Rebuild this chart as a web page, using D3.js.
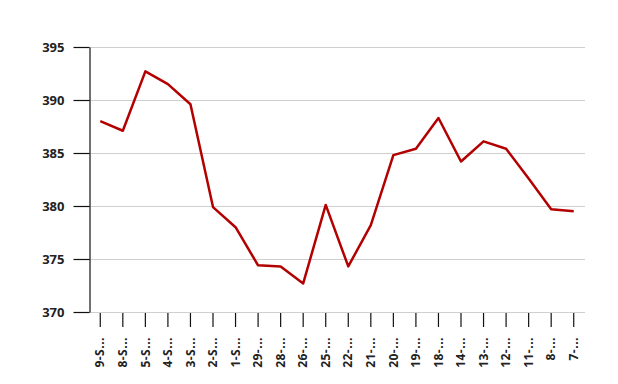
<!DOCTYPE html>
<html><head><meta charset="utf-8">
<script src="https://cdn.jsdelivr.net/npm/d3@7"></script>
<style>body{margin:0;background:#fff}svg{display:block}</style>
</head><body>
<svg id="c" width="618" height="384"></svg>
<script>
const categories = ["9-S...","8-S...","5-S...","4-S...","3-S...","2-S...","1-S...","29-...","28-...","26-...","25-...","22-...","21-...","20-...","19-...","18-...","14-...","13-...","12-...","11-...","8-...","7-..."];
const values = [388.0,387.1,392.7,391.5,389.6,379.9,378.0,374.4,374.3,372.7,380.1,374.3,378.2,384.8,385.4,388.3,384.2,386.1,385.4,382.6,379.7,379.5];
const yTicks = [370,375,380,385,390,395];

const svg = d3.select("#c");
const L = 89, R = 585, T = 47, B = 312;
const x = d3.scaleBand().domain(categories).range([L, R]);
const y = d3.scaleLinear().domain([370, 395]).range([B, T]);
const font = "'Open Sans', sans-serif";

// gridlines
svg.append("g").selectAll("line").data(yTicks).join("line")
  .attr("x1", L).attr("x2", R)
  .attr("y1", d => y(d) + 0.5).attr("y2", d => y(d) + 0.5)
  .attr("stroke", "#cfcfcf").attr("stroke-width", 1);

// y axis
const ya = svg.append("g").attr("transform", `translate(${L + 0.5},0)`)
  .call(d3.axisLeft(y).tickValues(yTicks).tickSize(16).tickSizeOuter(0).tickPadding(9));
ya.select(".domain").attr("stroke", "#111").attr("stroke-width", 1.2);
ya.selectAll(".tick line").attr("stroke", "#111").attr("stroke-width", 1.2);
ya.selectAll("text").attr("font-family", font).attr("font-weight", "bold")
  .attr("font-size", "13px").attr("fill", "#222");

// x axis ticks
const xa = svg.append("g").attr("transform", `translate(0,${B + 1})`)
  .call(d3.axisBottom(x).tickSize(14).tickSizeOuter(0));
xa.select(".domain").remove();
xa.selectAll(".tick line").attr("stroke", "#111").attr("stroke-width", 1.2);
xa.selectAll("text")
  .attr("font-family", font).attr("font-weight", "bold")
  .attr("font-size", "12px").attr("fill", "#222")
  .attr("letter-spacing", "0.5px")
  .attr("text-anchor", "end")
  .attr("transform", "rotate(-90)")
  .attr("x", -24).attr("y", 0).attr("dy", "0.35em");

// line
const line = d3.line()
  .x((d, i) => x(categories[i]) + x.bandwidth() / 2)
  .y(d => y(d));
svg.append("path").datum(values)
  .attr("d", line)
  .attr("fill", "none")
  .attr("stroke", "#b30000")
  .attr("stroke-width", 2.5)
  .attr("stroke-linejoin", "round");
</script>
</body></html>
